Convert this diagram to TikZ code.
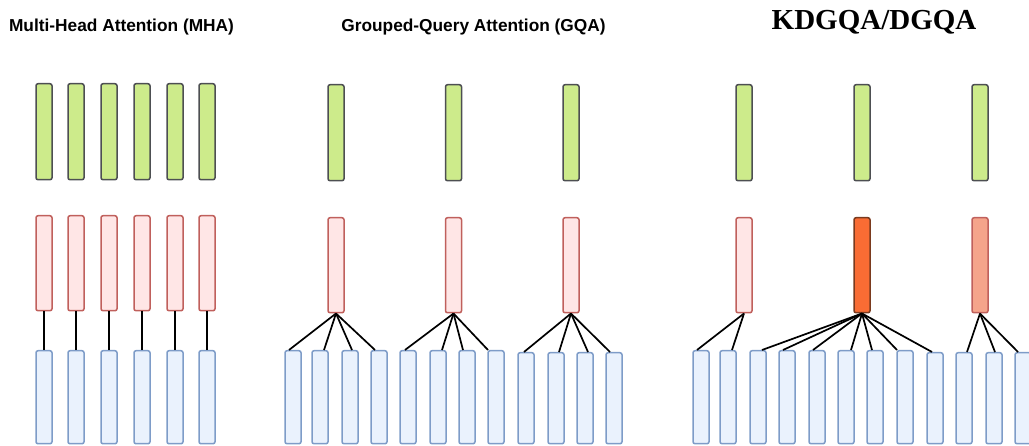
\documentclass[tikz,border=0pt]{standalone}
\usepackage{fontspec}
\newfontfamily\headsans{Liberation Sans}
\newfontfamily\headserif{Liberation Serif}
\usetikzlibrary{calc}

\definecolor{qfill}{HTML}{CDEB8B}
\definecolor{qline}{HTML}{4D4F52}
\definecolor{kfill}{HTML}{FFE6E6}
\definecolor{kline}{HTML}{C0605C}
\definecolor{vfill}{HTML}{EAF2FD}
\definecolor{vline}{HTML}{7E9CC8}
\definecolor{hotfill}{HTML}{F96C34}
\definecolor{hotline}{HTML}{7A3A1E}
\definecolor{warmfill}{HTML}{F5A48B}

\tikzset{
  bar/.style={rectangle, rounded corners=2pt, inner sep=0pt, line width=1.5pt,
              minimum width=16pt, anchor=north},
  qbar/.style={bar, draw=qline, fill=qfill, minimum height=96pt},
  kbar/.style={bar, draw=kline, fill=kfill, minimum height=95pt},
  vbar/.style={bar, draw=vline, fill=vfill, minimum height=93pt},
  link/.style={draw=black, line width=1.7pt},
  headA/.style={font=\headsans\bfseries\fontsize{17.3}{20}\selectfont, anchor=base},
  headB/.style={font=\headserif\bfseries\fontsize{29}{34}\selectfont, anchor=base}
}

\begin{document}
\begin{tikzpicture}[x=1pt, y=-1pt]
\useasboundingbox (0,0) rectangle (1029,446);

% ---- titles ----
\node[headA] (tmha) at (121.5,31.7) {Multi-Head Attention (MHA)};
\node[headA] (tgqa) at (473.5,31.7) {Grouped-Query Attention (GQA)};
\node[headB] (tdg) at (874,29.3) {KDGQA/DGQA};

% ---- MHA: one key/value head per query head ----
\foreach \i/\x in {1/44, 2/76, 3/109, 4/142, 5/175, 6/207} {
  \node[qbar] (mq\i) at (\x,83) {};
  \node[kbar] (mk\i) at (\x,215) {};
  \node[vbar] (mv\i) at (\x,350) {};
  \draw[link] (mk\i.south) -- (mv\i.north);
}

% ---- GQA: three groups of four ----
\foreach \i/\x in {1/336, 2/453.5, 3/571} {
  \node[qbar] (gq\i) at (\x,84) {};
  \node[kbar] (gk\i) at (\x,217) {};
}
\foreach \i/\x in {1/293, 2/320, 3/350, 4/379, 5/408, 6/438, 7/467, 8/496} {
  \node[vbar] (gv\i) at (\x,350) {};
}
\foreach \i/\x in {9/526, 10/556, 11/585, 12/614} {
  \node[vbar, minimum height=91pt] (gv\i) at (\x,352) {};
}
\foreach \k/\v/\d in {1/1/-4, 1/2/4, 1/3/2, 1/4/-4,
                      2/5/-3, 2/6/4, 2/7/-4, 2/8/-8,
                      3/9/-2, 3/10/3, 3/11/3, 3/12/-4} {
  \draw[link] (gk\k.south) -- ($(gv\v.north)+(\d,0)$);
}

% ---- KDGQA/DGQA: groups of uneven size ----
\foreach \i/\x in {1/744, 2/862, 3/980} {
  \node[qbar] (dq\i) at (\x,84) {};
}
\node[kbar] (dk1) at (744,217) {};
\node[kbar, draw=hotline, fill=hotfill] (dk2) at (862,217) {};
\node[kbar, fill=warmfill] (dk3) at (980,217) {};
\foreach \i/\x in {1/701, 2/728, 3/758, 4/787, 5/817, 6/846, 7/875, 8/905} {
  \node[vbar] (dv\i) at (\x,350) {};
}
\foreach \i/\x in {9/935, 10/964, 11/994, 12/1023} {
  \node[vbar, minimum height=91pt] (dv\i) at (\x,352) {};
}
\foreach \k/\v/\d in {1/1/-4, 1/2/4,
                      2/3/4, 2/4/-4, 2/5/-4, 2/6/5, 2/7/-3, 2/8/-8, 2/9/-3,
                      3/10/3, 3/11/1, 3/12/-5} {
  \draw[link] (dk\k.south) -- ($(dv\v.north)+(\d,0)$);
}
\end{tikzpicture}
\end{document}
